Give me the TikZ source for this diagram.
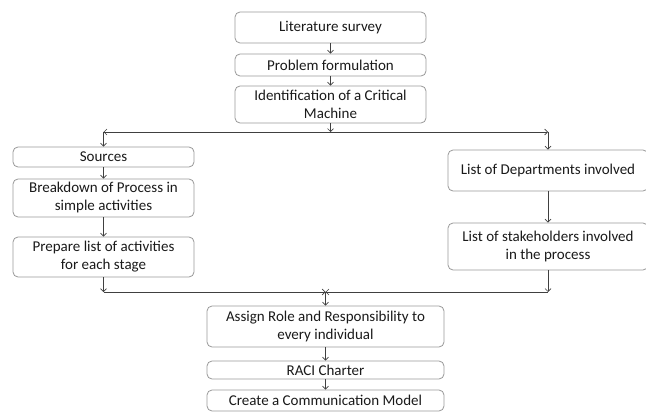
\documentclass[tikz,border=0pt]{standalone}
\usepackage{fontspec}
\setmainfont{Carlito}
\usetikzlibrary{arrows.meta}
\definecolor{boxline}{HTML}{999999}
\definecolor{conn}{HTML}{404040}
\definecolor{txt}{HTML}{1A1A1A}
\begin{document}
\begin{tikzpicture}[x=1pt,y=-1pt,
  box/.style={draw=boxline,line width=0.8pt,rounded corners=5pt,fill=white,
    align=center,inner sep=0pt,text=txt,font=\fontsize{15}{18}\selectfont},
  conn/.style={draw=conn,line width=0.7pt,-{Straight Barb[length=3pt,width=6pt]}},
  plain/.style={draw=conn,line width=0.7pt}]
\useasboundingbox (0,0) rectangle (646,412);
\node[box,minimum width=191pt,minimum height=31pt] (lit) at (330.5,27.5) {Literature survey};
\node[box,minimum width=191pt,minimum height=22pt] (prob) at (330.5,65) {Problem formulation};
\node[box,minimum width=191pt,minimum height=37pt] (ident) at (330.5,104.5) {Identification of a Critical\\Machine};
\node[box,minimum width=181pt,minimum height=20pt] (src) at (103.5,157) {Sources};
\node[box,minimum width=181pt,minimum height=38pt] (brk) at (103.5,198) {Breakdown of Process in\\simple activities};
\node[box,minimum width=181pt,minimum height=40pt] (prep) at (103.5,257) {Prepare list of activities\\for each stage};
\node[box,minimum width=200pt,minimum height=41pt] (dept) at (548,170.5) {List of Departments involved};
\node[box,minimum width=200pt,minimum height=47pt] (stk) at (548,246.5) {List of stakeholders involved\\in the process};
\node[box,minimum width=237pt,minimum height=41pt] (assign) at (325.5,326.5) {Assign Role and Responsibility to\\every individual};
\node[box,minimum width=237pt,minimum height=18pt] (raci) at (325.5,370) {RACI Charter};
\node[box,minimum width=237pt,minimum height=21pt] (comm) at (325.5,400.5) {Create a Communication Model};
\coordinate (tc) at (330.5,132);
\coordinate (tl) at (103.5,132);
\coordinate (tr) at (548,132);
\coordinate (bl) at (103.5,292);
\coordinate (br) at (548,292);
\coordinate (bc) at (325.5,292);
\draw[conn] (lit) -- (prob);
\draw[conn] (prob) -- (ident);
\draw[conn] (ident) -- (tc);
\draw[conn] (tc) -- (tl);
\draw[conn] (tc) -- (tr);
\draw[conn] (tl) -- (src);
\draw[conn] (tr) -- (dept);
\draw[conn] (src) -- (brk);
\draw[conn] (brk) -- (prep);
\draw[conn] (dept) -- (stk);
\draw[conn] (prep) -- (bl);
\draw[conn] (stk) -- (br);
\draw[conn] (bl) -- (bc);
\draw[conn] (br) -- (bc);
\draw[conn] (bc) -- (assign);
\draw[conn] (assign) -- (raci);
\draw[conn] (raci) -- (comm);
\end{tikzpicture}
\end{document}
